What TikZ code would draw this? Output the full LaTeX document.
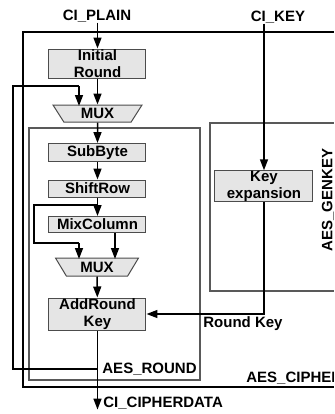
\documentclass[tikz,border=0pt]{standalone}
\usepackage{fontspec}
\setmainfont{Liberation Sans}
\usetikzlibrary{arrows.meta,shapes.geometric}

\begin{document}
\begin{tikzpicture}[x=0.5pt, y=-0.5pt, font=\fontsize{7.5}{8.5}\selectfont\bfseries,
  proc_box/.style={rectangle, draw=black!70, line width=0.5pt, fill=black!10, minimum width=48.5pt, align=center, inner sep=0pt},
  mux_node/.style={trapezium, shape border rotate=180, trapezium angle=44, trapezium stretches body, draw=black!70, line width=0.5pt, fill=black!10, inner sep=0pt},
  lbl/.style={inner sep=0pt},
  arrow_line/.style={line width=0.75pt, -{Triangle[length=5.5pt,width=4pt]}},
  feed_line/.style={line width=1pt},
  block_box/.style={draw=black!65, line width=0.7pt}]
				\clip (0,0) rectangle (334,414);
				\draw[line width=0.9pt] (23,32) rectangle (350,387);
				\draw[block_box] (29,128) rectangle (200,380);
				\draw[block_box] (210,123) rectangle (350,291);
				\node[lbl](plain) at (97,16){CI\_PLAIN};
				\node[lbl](key) at (278,17){CI\_KEY};
				\node[proc_box, minimum height=14.5pt](init) at (97.5,63.5){Initial\\Round};
				\node[mux_node, minimum width=44.5pt, minimum height=8.5pt](mux_a) at (97.5,113.5){MUX};
				\node[proc_box, minimum height=9pt](sub) at (97.5,152.5){SubByte};
				\node[proc_box, minimum height=8.5pt](shift) at (97.5,188.5){ShiftRow};
				\node[proc_box, minimum height=8pt](mix) at (97.5,224.5){MixColumn};
				\node[mux_node, minimum width=41.5pt, minimum height=9pt](mux_b) at (97,267){MUX};
				\node[proc_box, minimum height=16pt](ark) at (97.5,314){AddRound\\Key};
				\node[proc_box, minimum width=49pt, minimum height=15pt](keyexp) at (264,186){Key\\expansion};
				\node[lbl, anchor=west](cipherdata) at (103,403){CI\_CIPHERDATA};
				\node[lbl](rk) at (243,324){Round Key};
				\node[lbl, anchor=east](round_lbl) at (197,369){AES\_ROUND};
				\node[lbl, anchor=west](cipher_lbl) at (246,378){AES\_CIPHER};
				\node[lbl, rotate=90](genkey_lbl) at (328,200){AES\_GENKEY};
				\coordinate (tap) at (97,369);
				\coordinate (byp) at (97,205);
				\draw[arrow_line](plain.south -| init.north) -- (init.north);
				\draw[arrow_line](init) -- (mux_a);
				\draw[arrow_line](mux_a) -- (sub);
				\draw[arrow_line](sub) -- (shift);
				\draw[arrow_line](shift) -- (mix);
				\draw[arrow_line](mux_b) -- (ark);
				\draw[arrow_line](mix.south -| 115,0) -- (115,259);
				\draw[arrow_line](ark.south) -- (ark.south |- cipherdata.south);
				\draw[feed_line](byp) -| (34,243) -- (79,243);
				\draw[arrow_line](79,243) -- (79,259);
				\draw[feed_line](tap) -| (13,86) -- (79,86);
				\draw[arrow_line](79,86) -- (79,106);
				\draw[arrow_line](key.south -| keyexp.north) -- (keyexp.north);
				\draw[arrow_line](keyexp.south) |- (ark.east);
			\end{tikzpicture}
\end{document}
